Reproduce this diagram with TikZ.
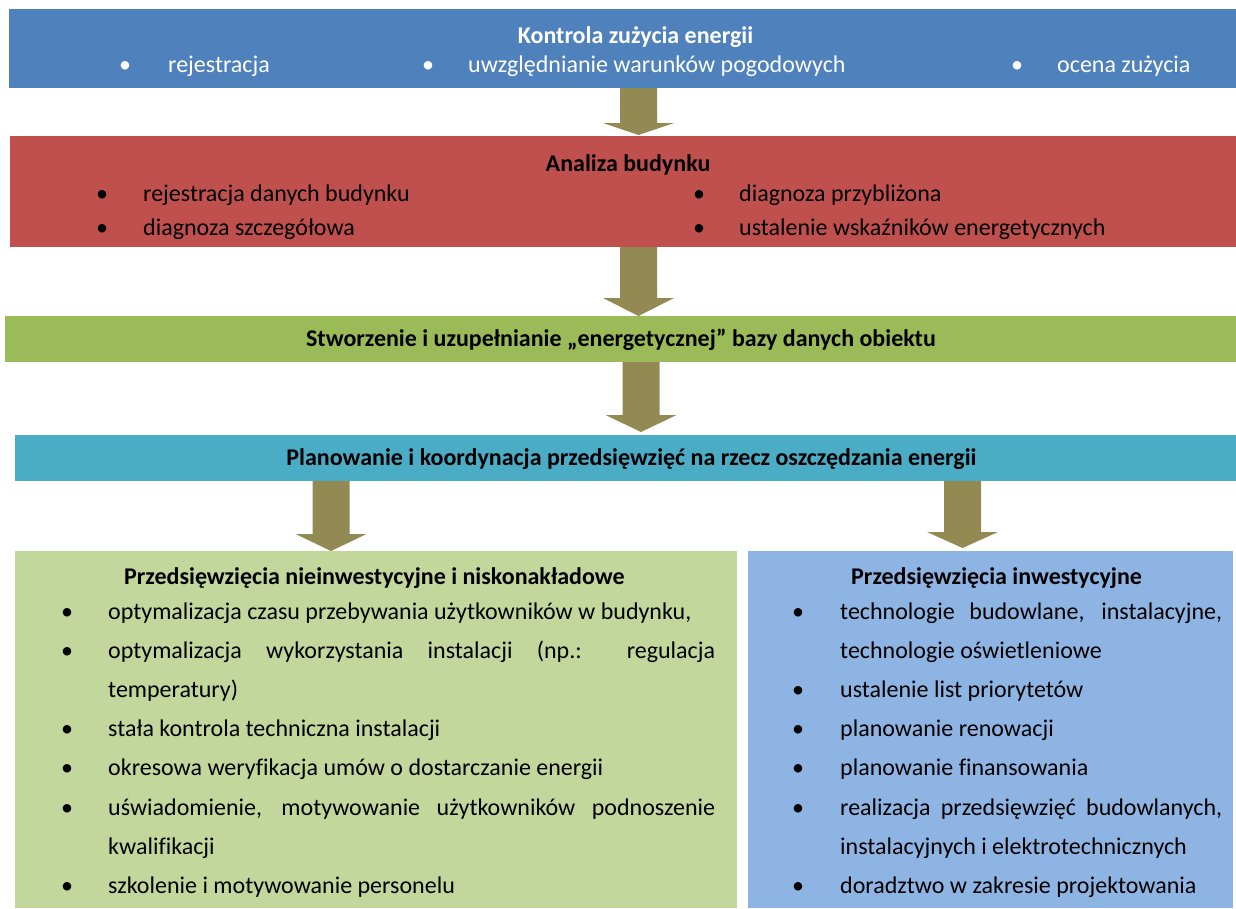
\documentclass[tikz,border=0pt]{standalone}
\usepackage{fontspec}
\setmainfont{Carlito}[Ligatures=NoCommon]
\usetikzlibrary{calc}
\definecolor{cblue}{HTML}{4F81BD}
\definecolor{cred}{HTML}{C0504D}
\definecolor{cgreen}{HTML}{9BBB59}
\definecolor{ccyan}{HTML}{4BACC6}
\definecolor{clgreen}{HTML}{C3D69B}
\definecolor{clblue}{HTML}{8EB4E3}
\definecolor{carrow}{HTML}{938953}
\tikzset{
  box/.style={draw=none, inner sep=0pt, outer sep=0pt},
  txt/.style={anchor=base west, inner sep=0pt, font=\fontsize{24}{29}\selectfont},
  ttl/.style={anchor=base, inner sep=0pt, font=\fontsize{24}{29}\selectfont\bfseries},
  bul/.style={anchor=base west, inner sep=0pt, font=\fontsize{24}{29}\selectfont},
  blockarrow/.style={fill=carrow, draw=none}
}
% #1 x-line coordinate, #2 from node, #3 to node, #4 head length, #5 gap at tip
\newcommand\blockarr[5]{%
  \path (#2.south -| #1) coordinate (#1s) (#3.north -| #1) coordinate (#1e);
  \fill[blockarrow] let \p1=(#1s), \p2=(#1e) in
    (\x1-18.5pt,\y1) -- (\x1+18.5pt,\y1) -- (\x1+18.5pt,\y2+#5pt+#4pt)
    -- (\x1+35.5pt,\y2+#5pt+#4pt) -- (\x1,\y2+#5pt) -- (\x1-35.5pt,\y2+#5pt+#4pt)
    -- (\x1-18.5pt,\y2+#5pt+#4pt) -- cycle;}
\begin{document}
\begin{tikzpicture}[x=1pt,y=-1pt]
\useasboundingbox (0,0) rectangle (1236,908);
% boxes
\path[box,fill=cblue] (9,9) rectangle (1236,88);
\node[box, minimum width=1227pt, minimum height=79pt] (kontrola) at (622.5,48.5) {};
\fill[cred] (10,136) rectangle (1236,247);
\node[box, minimum width=1226pt, minimum height=111pt] (analiza) at (623,191.5) {};
\fill[cgreen] (5,316) rectangle (1236,362);
\node[box, minimum width=1231pt, minimum height=46pt] (baza) at (620.5,339) {};
\fill[ccyan] (15,435) rectangle (1236,481);
\node[box, minimum width=1221pt, minimum height=46pt] (plan) at (625.5,458) {};
\fill[clgreen] (15,551) rectangle (737,908);
\node[box, minimum width=722pt, minimum height=357pt] (nie) at (376,729.5) {};
\fill[clblue] (748,551) rectangle (1233,908);
\node[box, minimum width=485pt, minimum height=357pt] (inw) at (990.5,729.5) {};
% arrows
\coordinate (ax) at (638.5,0);
\coordinate (bx) at (638.5,0);
\coordinate (cx) at (641,0);
\coordinate (dx) at (331,0);
\coordinate (ex) at (962.5,0);
\blockarr{ax}{kontrola}{analiza}{12}{1}
\blockarr{bx}{analiza}{baza}{18}{0}
\blockarr{cx}{baza}{plan}{17}{3}
\blockarr{dx}{plan}{nie}{17}{0}
\blockarr{ex}{plan}{inw}{16}{3}
% top box text
\node[ttl, text=white] (t1) at (635.5,43) {Kontrola zużycia energii};
\node[bul, text=white] (t1b1) at (119,72) {•};
\node[txt, text=white] (t1i1) at (168,72) {rejestracja};
\node[bul, text=white] (t1b2) at (422,72) {•};
\node[txt, text=white] (t1i2) at (468,72) {uwzględnianie warunków pogodowych};
\node[bul, text=white] (t1b3) at (1011,72) {•};
\node[txt, text=white] (t1i3) at (1057,72) {ocena zużycia};
% red box text
\node[ttl] (t2) at (628,171) {Analiza budynku};
\node[bul] (t2b1) at (96,201) {•};
\node[txt] (t2i1) at (143,201) {rejestracja danych budynku};
\node[bul] (t2b2) at (96,235) {•};
\node[txt] (t2i2) at (143,235) {diagnoza szczegółowa};
\node[bul] (t2b3) at (693,201) {•};
\node[txt] (t2i3) at (739,201) {diagnoza przybliżona};
\node[bul] (t2b4) at (693,235) {•};
\node[txt] (t2i4) at (739,235) {ustalenie wskaźników energetycznych};
% green / cyan
\node[ttl] (t3) at (621,346) {Stworzenie i uzupełnianie „energetycznej” bazy danych obiektu};
\node[ttl] (t4) at (631.5,465) {Planowanie i koordynacja przedsięwzięć na rzecz oszczędzania energii};
% left bottom
\node[txt, font=\fontsize{24}{29}\selectfont\bfseries] (t5) at (124,584) {Przedsięwzięcia nieinwestycyjne i niskonakładowe};
\node[bul] (l1b) at (61,619) {•};
\node[txt] (l1) at (108,619) {optymalizacja czasu przebywania użytkowników w budynku,};
\node[bul] (l2b) at (61,658) {•};
\node[txt] (l2) at (108,658) {\makebox[607pt][s]{optymalizacja wykorzystania instalacji (np.: regulacja}};
\node[txt] (l2c) at (108,697) {temperatury)};
\node[bul] (l3b) at (61,736) {•};
\node[txt] (l3) at (108,736) {stała kontrola techniczna instalacji};
\node[bul] (l4b) at (61,775) {•};
\node[txt] (l4) at (108,775) {okresowa weryfikacja umów o dostarczanie energii};
\node[bul] (l5b) at (61,815) {•};
\node[txt] (l5) at (108,815) {\makebox[607pt][s]{uświadomienie, motywowanie użytkowników podnoszenie}};
\node[txt] (l5c) at (108,854) {kwalifikacji};
\node[bul] (l6b) at (61,893) {•};
\node[txt] (l6) at (108,893) {szkolenie i motywowanie personelu};
% right bottom
\node[txt, font=\fontsize{24}{29}\selectfont\bfseries] (t6) at (851,584) {Przedsięwzięcia inwestycyjne};
\node[bul] (r1b) at (792,619) {•};
\node[txt] (r1) at (840,619) {\makebox[382pt][s]{technologie budowlane, instalacyjne,}};
\node[txt] (r1c) at (840,658) {technologie oświetleniowe};
\node[bul] (r2b) at (792,697) {•};
\node[txt] (r2) at (840,697) {ustalenie list priorytetów};
\node[bul] (r3b) at (792,736) {•};
\node[txt] (r3) at (840,736) {planowanie renowacji};
\node[bul] (r4b) at (792,775) {•};
\node[txt] (r4) at (840,775) {planowanie finansowania};
\node[bul] (r5b) at (792,815) {•};
\node[txt] (r5) at (840,815) {\makebox[382pt][s]{realizacja przedsięwzięć budowlanych,}};
\node[txt] (r5c) at (840,854) {instalacyjnych i elektrotechnicznych};
\node[bul] (r6b) at (792,893) {•};
\node[txt] (r6) at (840,893) {doradztwo w zakresie projektowania};
\end{tikzpicture}
\end{document}
